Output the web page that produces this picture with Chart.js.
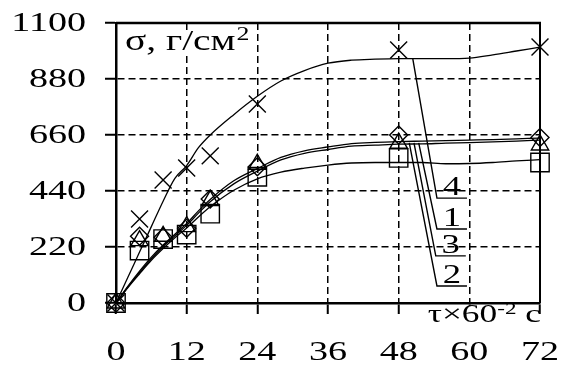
<!DOCTYPE html>
<html><head><meta charset="utf-8">
<script src="https://cdn.jsdelivr.net/npm/chart.js@4/dist/chart.umd.min.js"></script>
<style>html,body{margin:0;padding:0;background:#fff;}#wrap{width:568px;height:365px;position:relative;}</style>
</head><body><div id="wrap"><canvas id="c"></canvas></div>
<script>
// ---- data ----
const xTicks = [0, 12, 24, 36, 48, 60, 72];
const yTicks = [0, 220, 440, 660, 880, 1100];
const markX = [0, 4, 8, 12, 16, 24, 48, 72];
const s1 = [0, 262, 258, 294, 409, 535, 660, 650];   // ◇ series 1
const s2 = [0, 206, 251, 269, 351, 496, 570, 552];   // □ series 2
const s3 = [0, 245, 262, 300, 402, 545, 628, 621];   // △ series 3
const s4 = [0, 330, 483, 530, 578, 782, 994, 1006];  // × series 4
const curveX = [0, 2, 4, 6, 8, 10, 12, 14, 16, 20, 24, 28, 32, 36, 40, 44, 48, 52, 56, 60, 64, 68, 72];
const c1 = [0, 65, 125, 180, 228, 270, 312, 362, 407, 480, 528, 572, 598, 613, 626, 631, 634, 636, 638, 640, 642, 645, 648];
const c3 = [0, 62, 120, 174, 222, 264, 305, 353, 398, 468, 518, 562, 588, 603, 616, 620, 624, 625, 628, 630, 633, 636, 640];
const c2 = [0, 60, 115, 168, 214, 256, 295, 338, 378, 443, 488, 514, 530, 542, 550, 552, 552, 552, 547, 548, 552, 558, 563];
const c4 = [0, 100, 200, 300, 400, 490, 540, 610, 660, 740, 812, 872, 913, 942, 954, 958, 960, 960, 960, 962, 975, 990, 1005];
const curveNames = ['4', '1', '3', '2'];
const leadX = [[50.4, 54.5, 59.6], [51.4, 54.5, 59.6], [50.6, 54.3, 59.4], [49.8, 54.5, 59.6]];
const leadY = [[959, 412, 412], [629, 291, 291], [629, 185, 185], [629, 67, 67]];
const yTitle = 'σ, г/см';
const yTitleSup = '2';
const xTitle = 'τ×60';
const xTitleSup = '-2';
const xTitleEnd = ' с';

const pts = (xs, ys) => xs.map((x, i) => ({x, y: ys[i]}));
const SX = 1.36;
const FONT = '"Liberation Serif", "Times New Roman", serif';

function sText(ctx, str, x, y, size, align, baseline) {
  ctx.save();
  ctx.font = size + 'px ' + FONT;
  ctx.textAlign = align; ctx.textBaseline = baseline;
  ctx.fillStyle = '#000';
  ctx.translate(x, y); ctx.scale(SX, 1);
  ctx.fillText(str, 0, 0);
  ctx.restore();
}
function sWidth(ctx, str, size) {
  ctx.save(); ctx.font = size + 'px ' + FONT;
  const w = ctx.measureText(str).width * SX; ctx.restore(); return w;
}

const markerBase = {showLine: false, borderColor: '#000', backgroundColor: 'rgba(0,0,0,0)', borderWidth: 1.4, clip: false};
const lineBase = {showLine: true, pointRadius: 0, borderColor: '#000', borderWidth: 1.3, cubicInterpolationMode: 'monotone', clip: false};
const leadBase = {showLine: true, pointRadius: 0, borderColor: '#000', borderWidth: 1.4, tension: 0, clip: false};

const datasets = [
  Object.assign({label: 'c4', data: pts(curveX, c4)}, lineBase),
  Object.assign({label: 'c1', data: pts(curveX, c1)}, lineBase),
  Object.assign({label: 'c3', data: pts(curveX, c3)}, lineBase),
  Object.assign({label: 'c2', data: pts(curveX, c2)}, lineBase),
  Object.assign({label: '2', data: pts(markX, s2), pointStyle: 'rect', pointRadius: 13}, markerBase),
  Object.assign({label: '3', data: pts(markX, s3), pointStyle: 'triangle', pointRadius: 10}, markerBase),
  Object.assign({label: '1', data: pts(markX, s1), pointStyle: 'rectRot', pointRadius: 9}, markerBase),
  Object.assign({label: '4', data: pts(markX, s4), pointStyle: 'crossRot', pointRadius: 12}, markerBase),
];
leadX.forEach((lx, i) => datasets.push(Object.assign({label: 'lead' + curveNames[i], data: pts(lx, leadY[i])}, leadBase)));

const textPlugin = {
  id: 'texts',
  afterDraw(chart) {
    const {ctx, chartArea: a, scales: {x, y}} = chart;
    // top and right frame
    ctx.save();
    ctx.strokeStyle = '#000';
    ctx.lineWidth = 2.5;
    ctx.beginPath(); ctx.moveTo(a.left, a.top); ctx.lineTo(a.right + 1, a.top); ctx.stroke();
    ctx.lineWidth = 2;
    ctx.beginPath(); ctx.moveTo(a.right, a.top); ctx.lineTo(a.right, a.bottom); ctx.stroke();
    ctx.restore();
    // tick labels
    yTicks.forEach(v => sText(ctx, String(v), a.left - 30, y.getPixelForValue(v) + 1, 28, 'right', 'middle'));
    xTicks.forEach(v => sText(ctx, String(v), x.getPixelForValue(v), a.bottom + 57, 28, 'center', 'alphabetic'));
    // y title
    const tx = a.left + 9, ty = a.top + 27;
    const w1 = sWidth(ctx, yTitle, 29), w2 = sWidth(ctx, yTitleSup, 19);
    ctx.fillStyle = '#fff'; ctx.fillRect(tx - 2, ty - 20, w1 + w2 + 4, 26);
    sText(ctx, yTitle, tx, ty, 29, 'left', 'alphabetic');
    sText(ctx, yTitleSup, tx + w1 + 1, ty - 10, 19, 'left', 'alphabetic');
    // x title
    const xw1 = sWidth(ctx, xTitle, 26), xw2 = sWidth(ctx, xTitleSup, 17), xw3 = sWidth(ctx, xTitleEnd, 26);
    const xb = a.bottom + 19;
    let xs = a.right + 1 - (xw1 + xw2 + xw3);
    ctx.fillStyle = '#fff'; ctx.fillRect(xs, a.bottom + 3, xw1 + xw2 + xw3 - 4, 19);
    sText(ctx, xTitle, xs, xb, 26, 'left', 'alphabetic'); xs += xw1;
    sText(ctx, xTitleSup, xs, xb - 8, 17, 'left', 'alphabetic'); xs += xw2;
    sText(ctx, xTitleEnd, xs, xb, 26, 'left', 'alphabetic');
    // curve labels on the leader shelves
    curveNames.forEach((n, i) => {
      const px = (x.getPixelForValue(leadX[i][1]) + x.getPixelForValue(leadX[i][2])) / 2;
      const py = y.getPixelForValue(leadY[i][2]) - 3;
      sText(ctx, n, px, py, 27, 'center', 'alphabetic');
    });
  }
};

const gridColor = (ends) => (c) => (c.tick && ends.includes(c.tick.value)) ? 'rgba(0,0,0,0)' : '#000';

new Chart(document.getElementById('c'), {
  type: 'scatter',
  data: {datasets},
  options: {
    responsive: true, maintainAspectRatio: false, animation: false,
    layout: {padding: {top: 23, right: 28, left: 0, bottom: 0}},
    plugins: {legend: {display: false}, tooltip: {enabled: false}},
    scales: {
      x: {
        type: 'linear', min: 0, max: 72,
        afterBuildTicks: s => { s.ticks = xTicks.map(v => ({value: v})); },
        afterFit: s => { s.height = 62; },
        ticks: {display: false},
        grid: {color: gridColor([0, 72]), lineWidth: 1.5, tickLength: 11, tickColor: '#000', tickWidth: 2},
        border: {color: '#000', width: 2.5, dash: [7, 4]}
      },
      y: {
        type: 'linear', min: 0, max: 1100,
        afterBuildTicks: s => { s.ticks = yTicks.map(v => ({value: v})); },
        afterFit: s => { s.width = 116; },
        ticks: {display: false},
        grid: {color: gridColor([0, 1100]), lineWidth: 1.5, tickLength: 11, tickColor: '#000', tickWidth: 2},
        border: {color: '#000', width: 2.5, dash: [7, 4]}
      }
    }
  },
  plugins: [textPlugin]
});
</script></body></html>
